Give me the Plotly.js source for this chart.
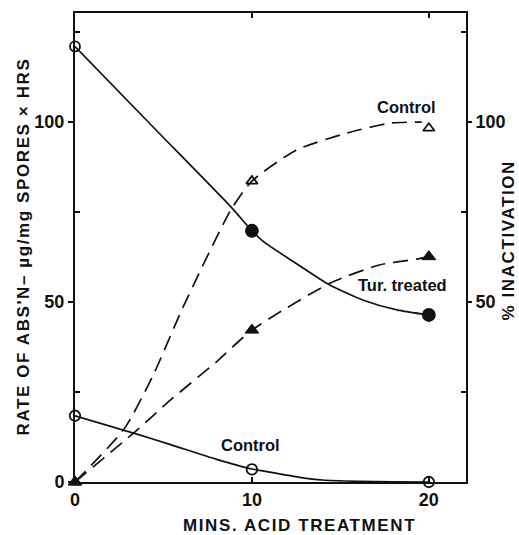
<!DOCTYPE html>
<html><head><meta charset="utf-8">
<script src="https://cdn.plot.ly/plotly-3.0.1.min.js"></script>
<style>
body{margin:0;background:#fff}
g.annotation[data-index="3"] text, g.annotation[data-index="4"] text, g.annotation[data-index="5"] text{letter-spacing:1.6px}
</style>
</head><body>
<div id="chart" style="width:519px;height:535px"></div>
<script>
// measured points (minutes of acid treatment)
const minutes = [0, 10, 20];
// rate of absorption, µg/mg spores × hrs (left axis)
const turTreatedRate = [121, 69.8, 46.4];
const controlRate = [18.4, 3.5, 0];
// % inactivation (right axis)
const controlInact = [0, 83.6, 98.3];
const turTreatedInact = [0, 42.2, 62.6];

// drawn curves
const turRateCurveX = [0, 4.4, 8.8, 10, 10.6, 12.5, 14.4, 16.3, 18.2, 20];
const turRateCurveY = [121, 98.7, 76.5, 69.8, 67.0, 60.7, 54.7, 50.5, 47.8, 46.4];
const controlRateCurveX = [0, 3.5, 5.4, 8, 10, 10.6, 12.7, 14, 16, 18, 20];
const controlRateCurveY = [18.4, 13.3, 10.4, 6.3, 3.6, 3.1, 1.3, 0.55, 0.2, 0.05, 0];
const controlInactCurveX = [0, 2.8, 4.4, 6.1, 8.8, 10, 12.5, 15.4, 17.8, 19.6];
const controlInactCurveY = [0, 14.9, 29.5, 48.5, 75.5, 83.6, 92.2, 97, 99.7, 100];
const turInactCurveX = [0, 3.5, 5.4, 8, 10, 14.4, 17.2, 19.3, 20];
const turInactCurveY = [0, 14.4, 22.8, 33.4, 42.2, 55.2, 60.3, 61.9, 62.6];

// text
const curveLabels = ["Control", "Tur. treated", "Control"];
const xTitle = "MINS. ACID TREATMENT";
const yTitle = "RATE OF ABS'N– µg/mg SPORES × HRS";
const y2Title = "% INACTIVATION";

const F = "Liberation Sans, Arial, sans-serif";
const black = "#111";
const lineStyle = {color: black, width: 1.7, shape: "spline", smoothing: 0.6};
const dashStyle = {color: black, width: 1.7, shape: "spline", smoothing: 0.6, dash: "15px,8px"};
const traces = [
  {x: turRateCurveX, y: turRateCurveY, mode: "lines", line: lineStyle, hoverinfo: "skip"},
  {x: controlRateCurveX, y: controlRateCurveY, mode: "lines", line: lineStyle, hoverinfo: "skip"},
  {x: controlInactCurveX, y: controlInactCurveY, yaxis: "y2", mode: "lines", line: dashStyle, hoverinfo: "skip"},
  {x: turInactCurveX, y: turInactCurveY, yaxis: "y2", mode: "lines", line: dashStyle, hoverinfo: "skip"},
  {x: minutes, y: turTreatedRate, mode: "markers", cliponaxis: false,
   marker: {symbol: ["circle-open", "circle", "circle"], size: [10, 12, 12], opacity: 1, color: black, line: {color: black, width: 1.8}}},
  {x: minutes, y: controlRate, mode: "markers", cliponaxis: false,
   marker: {symbol: "circle-open", size: 10.5, opacity: 1, color: black, line: {color: black, width: 1.8}}},
  {x: minutes, y: controlInact, yaxis: "y2", mode: "markers", cliponaxis: false,
   marker: {symbol: ["triangle-up", "triangle-up-open", "triangle-up-open"], size: 10, opacity: 1, color: black, line: {color: black, width: 1.8}}},
  {x: minutes, y: turTreatedInact, yaxis: "y2", mode: "markers", cliponaxis: false,
   marker: {symbol: "triangle-up", size: 12, opacity: 1, color: black, line: {color: black, width: 1}}}
];
const yr = [0, 130.3];
const tickFont = {family: F, size: 18, color: black, weight: "bold"};
const labelFont = {family: F, size: 16.5, color: black, weight: "bold"};
const titleFont = {family: F, size: 17, color: black, weight: "bold"};
const layout = {
  width: 519, height: 535,
  margin: {l: 75, r: 53, t: 13, b: 53},
  paper_bgcolor: "#fff", plot_bgcolor: "#fff",
  showlegend: false,
  font: {family: F, color: black},
  xaxis: {range: [0, 22.1], tickvals: minutes, ticktext: ["0", "10", "20"], showgrid: false, zeroline: false,
    showline: true, linecolor: black, linewidth: 2, mirror: "ticks", ticks: "inside", ticklen: 5, tickwidth: 1.5, tickcolor: black,
    tickfont: tickFont},
  yaxis: {range: yr, tickvals: [0, 50, 100], ticktext: ["0", "50", "100"], showgrid: false, zeroline: false,
    showline: true, linecolor: black, linewidth: 2, ticks: "outside", ticklen: 5, tickwidth: 1.5, tickcolor: black,
    minor: {tickvals: [25, 75, 125], ticks: "inside", ticklen: 5, tickwidth: 1.5, tickcolor: black},
    tickfont: tickFont},
  yaxis2: {range: yr, overlaying: "y", side: "right", tickvals: [50, 100], ticktext: ["50", "100"], showgrid: false, zeroline: false,
    showline: true, linecolor: black, linewidth: 2, ticks: "outside", ticklen: 4, tickwidth: 1.5, tickcolor: black,
    minor: {tickvals: [25, 75, 125], ticks: "inside", ticklen: 5, tickwidth: 1.5, tickcolor: black},
    tickfont: tickFont},
  annotations: [
    {x: 18.76, y: 104.2, text: curveLabels[0], showarrow: false, font: labelFont},
    {x: 18.5, y: 54.7, text: curveLabels[1], showarrow: false, font: labelFont},
    {x: 9.94, y: 10.3, text: curveLabels[2], showarrow: false, font: labelFont},
    {xref: "paper", yref: "paper", x: 0.575, y: -0.092, text: xTitle, showarrow: false, font: titleFont, xanchor: "center", yanchor: "middle"},
    {xref: "paper", yref: "paper", x: -0.133, y: 0.503, text: yTitle, textangle: -90, showarrow: false, font: titleFont, xanchor: "center", yanchor: "middle"},
    {xref: "paper", yref: "paper", x: 1.111, y: 0.516, text: y2Title, textangle: -90, showarrow: false, font: titleFont, xanchor: "center", yanchor: "middle"}
  ]
};
Plotly.newPlot("chart", traces, layout, {staticPlot: true});
</script>
</body></html>
